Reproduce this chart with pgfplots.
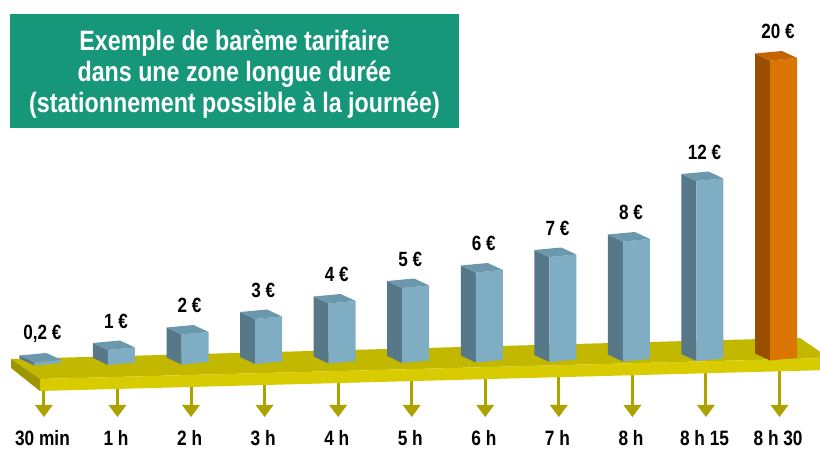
\documentclass[border=0pt]{standalone}
\usepackage{pgfplots}
\pgfplotsset{compat=1.18}
\usepackage{fontspec}
\setmainfont{Liberation Sans}
\newfontfamily\narrow{Liberation Sans}[FakeStretch=0.83]
\definecolor{barfront}{HTML}{7FAEC4}
\definecolor{barside}{HTML}{567889}
\definecolor{bartop}{HTML}{6B98AD}
\definecolor{orfront}{HTML}{D97500}
\definecolor{orside}{HTML}{9A4F00}
\definecolor{ortop}{HTML}{C46400}
\definecolor{plattop}{HTML}{C2B800}
\definecolor{platfront}{HTML}{D8CC00}
\definecolor{platside}{HTML}{9E9600}
\definecolor{arrowc}{HTML}{ADA300}
\definecolor{titlegreen}{HTML}{16977A}
\newcommand\valfont{\narrow\fontsize{10.3}{11}\selectfont\bfseries}
\newcommand\timefont{\narrow\fontsize{10.4}{11}\selectfont\bfseries}
\newcommand\drawbar[6]{%
 \pgfmathsetmacro\b{0.0333*#1}%
 \pgfmathsetmacro\xl{#1}%
 \pgfmathsetmacro\xr{#1+0.367}%
 \pgfmathsetmacro\xbl{#1-0.204}%
 \pgfmathsetmacro\xbr{#1+0.367-0.204}%
 \pgfmathsetmacro\yb{\b}%
 \pgfmathsetmacro\ybr{\b+0.167}%
 \pgfmathsetmacro\yt{\b+#2}%
 \pgfmathsetmacro\ytr{\b+#2+0.167}%
 \pgfmathsetmacro\ybb{\b+0.467}%
 \pgfmathsetmacro\ytb{\b+#2+0.467}%
 \pgfmathsetmacro\ytbr{\b+#2+0.633}%
 \pgfmathsetmacro\lx{#1+0.11}%
 \pgfmathsetmacro\ly{\b+#2+1.93}%
 \edef\doit{%
 \noexpand\addplot[fill=#4,draw=none] coordinates {(\xbl,\ybb) (\xl,\yb) (\xl,\yt) (\xbl,\ytb)};
 \noexpand\addplot[fill=#3,draw=none] coordinates {(\xl,\yb) (\xr,\ybr) (\xr,\ytr) (\xl,\yt)};
 \noexpand\addplot[fill=#5,draw=none] coordinates {(\xl,\yt) (\xr,\ytr) (\xbr,\ytbr) (\xbl,\ytb)};
 \noexpand\node[font=\noexpand\valfont] at (axis cs:\lx,\ly) {#6};
 }\doit}
\newcommand\drawarrow[2]{%
 \pgfmathsetmacro\ax{#1+0.129}%
 \pgfmathsetmacro\axl{#1+0.129-0.122}%
 \pgfmathsetmacro\axr{#1+0.129+0.122}%
 \pgfmathsetmacro\lbx{#1+0.11}%
 \edef\doit{%
 \noexpand\addplot[color=arrowc,line width=1.5pt] coordinates {(\ax,0) (\ax,-2.7)};
 \noexpand\addplot[fill=arrowc,draw=none] coordinates {(\axl,-2.633) (\axr,-2.633) (\ax,-3.433)};
 \noexpand\node[font=\noexpand\timefont] at (axis cs:\lbx,-4.833) {#2};
 }\doit}
\begin{document}
\begin{tikzpicture}
\begin{axis}[hide axis, scale only axis, width=410pt, height=224.5pt,
 xmin=-0.4677, xmax=10.6794, ymin=-5.5667, ymax=24.3667, clip=true]
% arrows and time labels
\drawarrow{0}{30 min}
\drawarrow{1}{1 h}
\drawarrow{2}{2 h}
\drawarrow{3}{3 h}
\drawarrow{4}{4 h}
\drawarrow{5}{5 h}
\drawarrow{6}{6 h}
\drawarrow{7}{7 h}
\drawarrow{8}{8 h}
\drawarrow{9}{8 h 15}
\drawarrow{10}{8 h 30}
% platform
\addplot[fill=plattop,draw=none] coordinates {(-0.3181,0.4333) (10.4080,1.8333) (10.8021,0.5) (0.0761,-0.9)};
\addplot[fill=platfront,draw=none] coordinates {(0.0761,-0.9) (10.8021,0.5) (10.8021,-0.3) (0.0761,-1.7)};
\addplot[fill=platside,draw=none] coordinates {(-0.3181,0.4333) (0.0761,-0.9) (0.0761,-1.7) (-0.3181,-0.1667)};
% bars: index, value (euros)
\drawbar{0}{0.2}{barfront}{barside}{bartop}{0,2 €}
\drawbar{1}{1}{barfront}{barside}{bartop}{1 €}
\drawbar{2}{2}{barfront}{barside}{bartop}{2 €}
\drawbar{3}{3}{barfront}{barside}{bartop}{3 €}
\drawbar{4}{4}{barfront}{barside}{bartop}{4 €}
\drawbar{5}{5}{barfront}{barside}{bartop}{5 €}
\drawbar{6}{6}{barfront}{barside}{bartop}{6 €}
\drawbar{7}{7}{barfront}{barside}{bartop}{7 €}
\drawbar{8}{8}{barfront}{barside}{bartop}{8 €}
\drawbar{9}{12}{barfront}{barside}{bartop}{12 €}
\drawbar{10}{20}{orfront}{orside}{ortop}{20 €}
% title
\node[fill=titlegreen, minimum width=224.5pt, minimum height=57pt, inner sep=0pt] at (axis cs:2.7201,19.633) {};
\node[text=white, align=center, font=\narrow\fontsize{14}{15.5}\selectfont\bfseries] at (axis cs:2.7201,19.433)
 {Exemple de barème tarifaire\\dans une zone longue durée\\(stationnement possible à la journée)};
\end{axis}
\path (current axis.south west) rectangle (current axis.north east);
\end{tikzpicture}
\end{document}
